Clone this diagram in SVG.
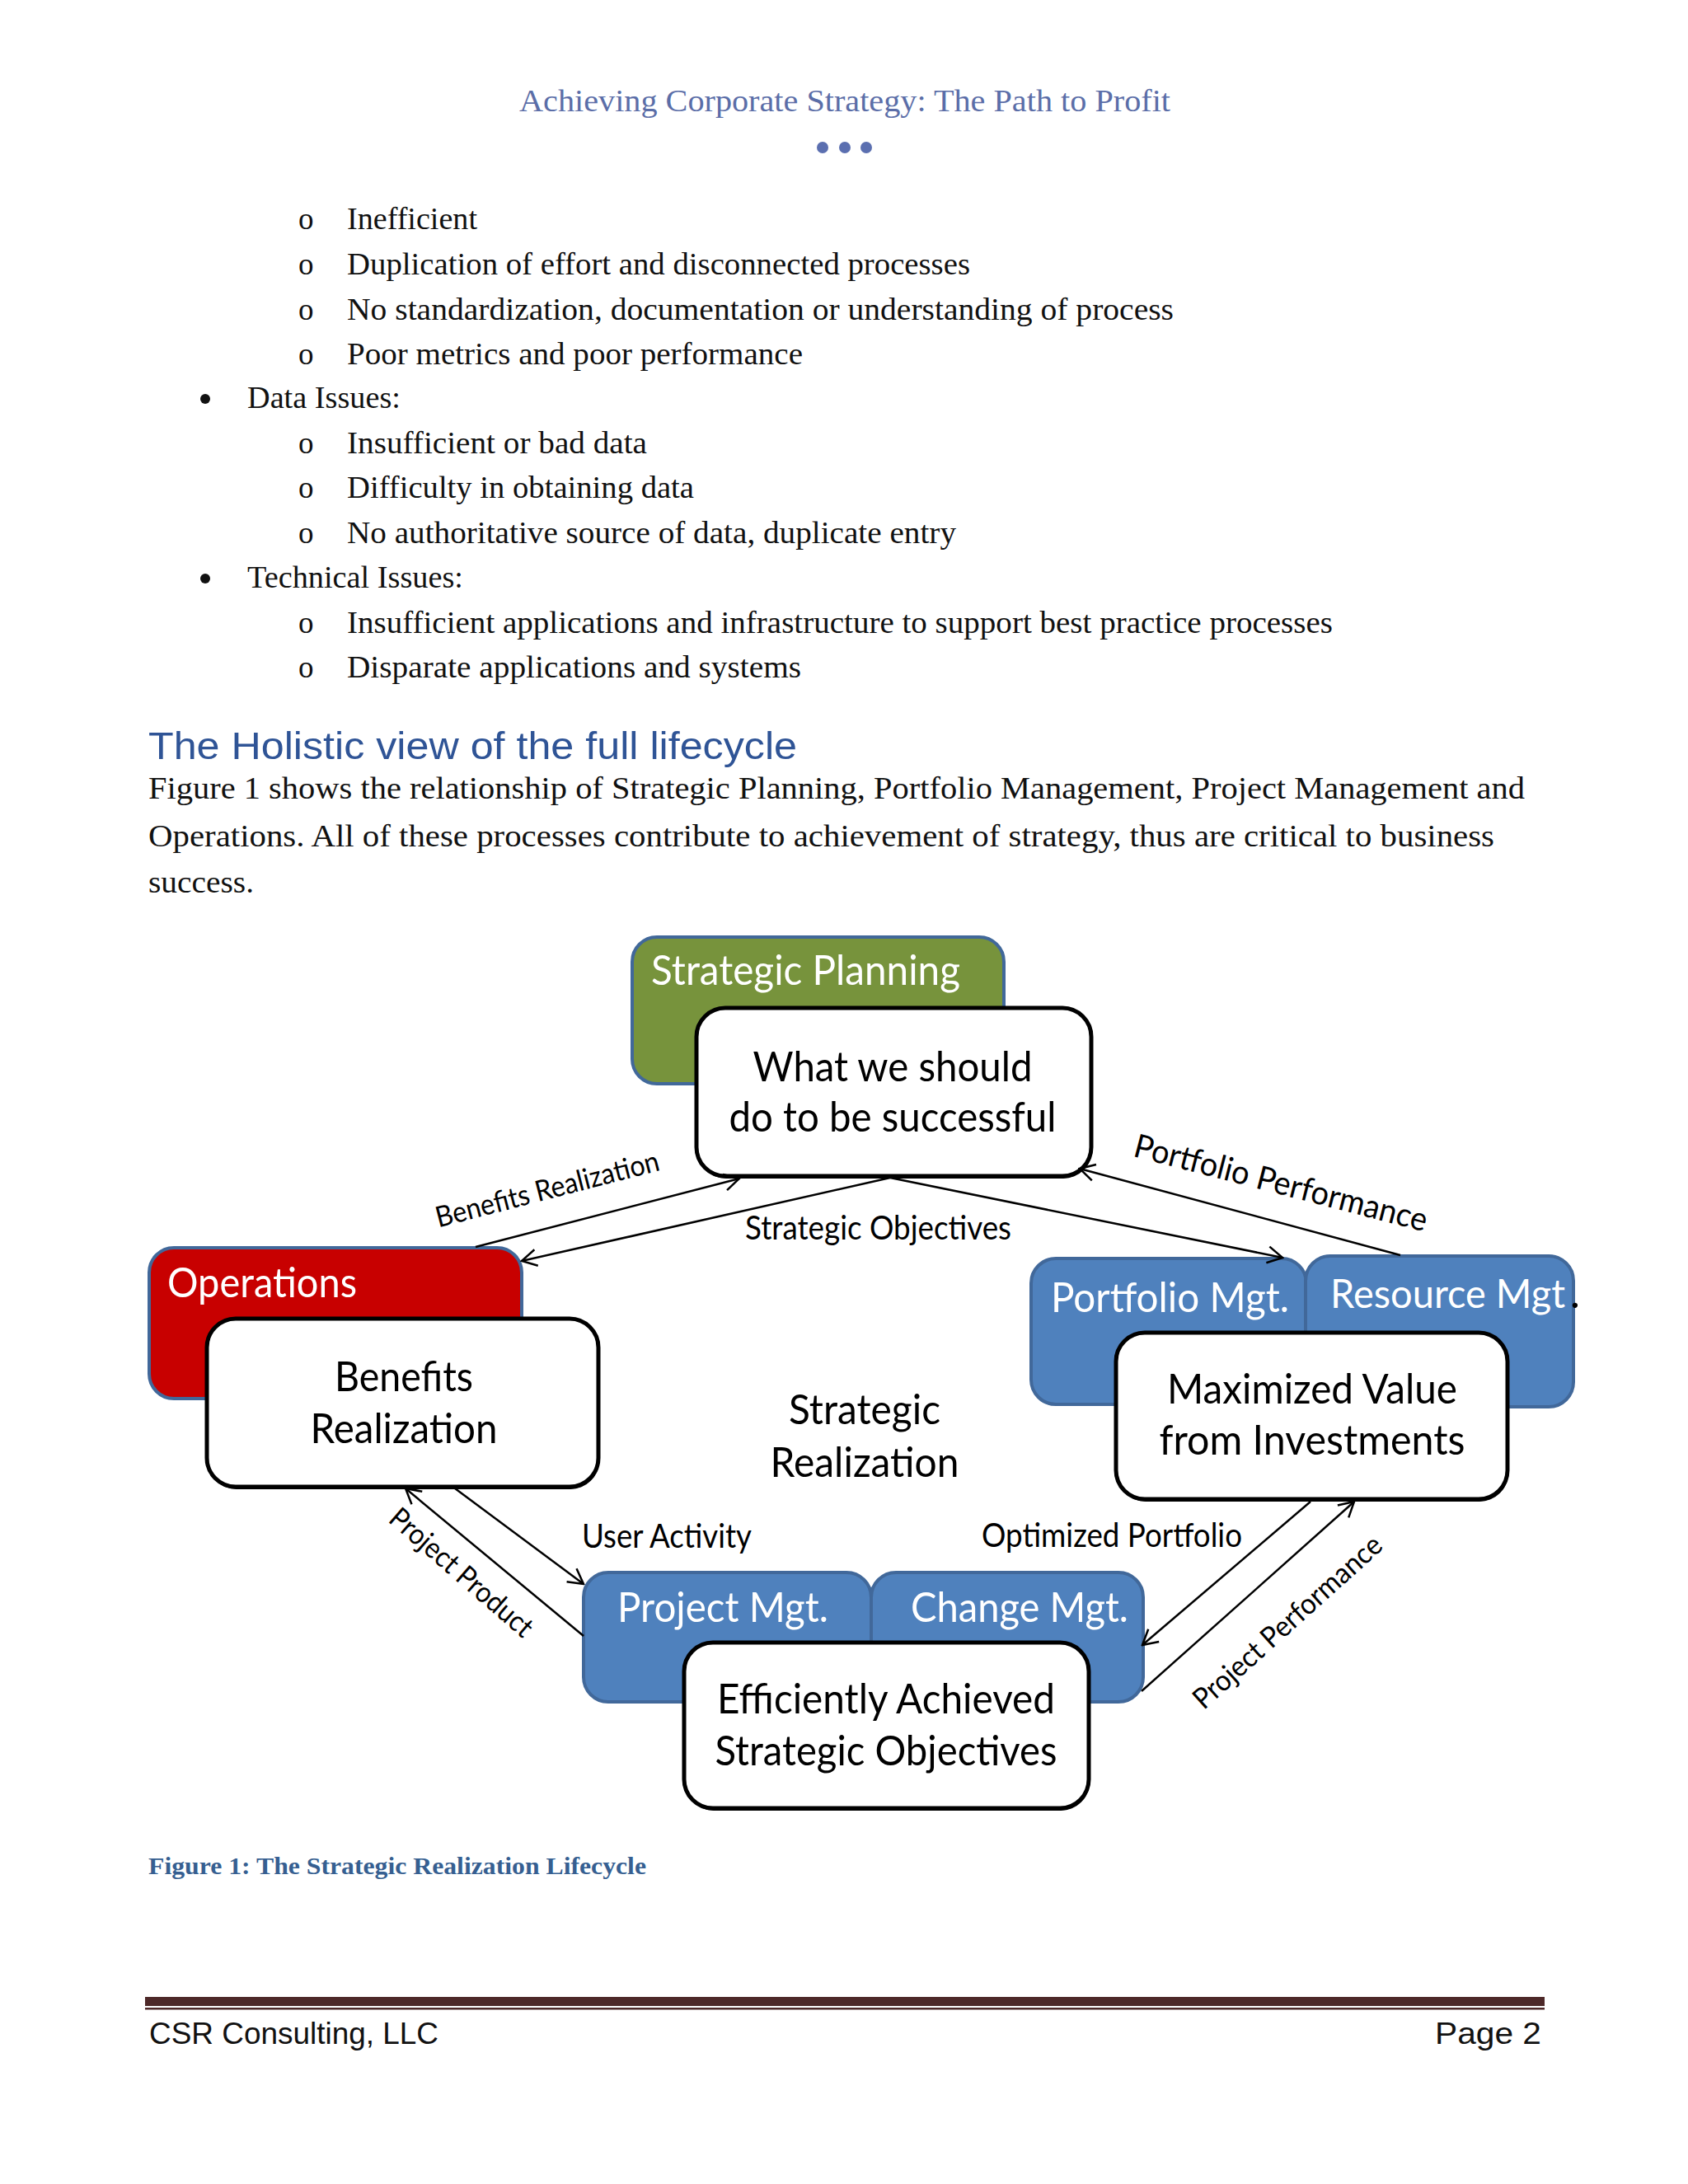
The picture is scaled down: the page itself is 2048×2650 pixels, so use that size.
<svg xmlns="http://www.w3.org/2000/svg" width="2048" height="2650" viewBox="0 0 2048 2650">
<defs>
<style>
.body{font-family:"Liberation Serif","Times New Roman",serif;font-size:37px;fill:#111}
.title{font-family:"Liberation Serif",serif;font-size:37px;fill:#5b6ea8}
.head{font-family:"Liberation Sans",Arial,sans-serif;font-size:46px;fill:#2f5496}
.cap{font-family:"Liberation Serif",serif;font-size:30px;font-weight:bold;fill:#365f91}
.foot{font-family:"Liberation Sans",Arial,sans-serif;font-size:37px;fill:#111}
.hdr{font-family:Lato,"Liberation Sans",sans-serif;font-size:50px;fill:#fff}
.box{font-family:Lato,"Liberation Sans",sans-serif;font-size:50px;fill:#000;text-anchor:middle}
.lbl{font-family:Lato,"Liberation Sans",sans-serif;font-size:40px;fill:#000}
.lbls{font-family:Lato,"Liberation Sans",sans-serif;font-size:35px;fill:#000;text-anchor:middle}
.cbox{stroke:#41689a;stroke-width:4}
.wbox{fill:#fff;stroke:#000;stroke-width:5}
.shadow{fill:#000}
.conn{fill:none;stroke:#000;stroke-width:2.5;marker-end:url(#arr)}
</style>
<marker id="arr" viewBox="-22 -12 24 24" refX="0" refY="0" markerWidth="24" markerHeight="24" orient="auto" markerUnits="userSpaceOnUse">
<path d="M-18,-10 L0,0 L-18,10" fill="none" stroke="#000" stroke-width="2.5"/>
</marker>
</defs>
<rect width="2048" height="2650" fill="#fff"/>

<g id="page-header">
<text class="title" x="630" y="135" textLength="790" lengthAdjust="spacingAndGlyphs">Achieving Corporate Strategy: The Path to Profit</text>
<circle cx="998" cy="179" r="7" fill="#5b6fb0"/>
<circle cx="1025" cy="179" r="7" fill="#5b6fb0"/>
<circle cx="1051" cy="179" r="7" fill="#5b6fb0"/>
</g>

<g id="bullets">
<g class="body">
<text x="362" y="278">o</text>
<text x="421" y="278" textLength="158" lengthAdjust="spacingAndGlyphs">Inefficient</text>
<text x="362" y="333">o</text>
<text x="421" y="333" textLength="756" lengthAdjust="spacingAndGlyphs">Duplication of effort and disconnected processes</text>
<text x="362" y="388">o</text>
<text x="421" y="388" textLength="1003" lengthAdjust="spacingAndGlyphs">No standardization, documentation or understanding of process</text>
<text x="362" y="442">o</text>
<text x="421" y="442" textLength="553" lengthAdjust="spacingAndGlyphs">Poor metrics and poor performance</text>
<text x="300" y="495" textLength="186" lengthAdjust="spacingAndGlyphs">Data Issues:</text>
<text x="362" y="550">o</text>
<text x="421" y="550" textLength="364" lengthAdjust="spacingAndGlyphs">Insufficient or bad data</text>
<text x="362" y="604">o</text>
<text x="421" y="604" textLength="421" lengthAdjust="spacingAndGlyphs">Difficulty in obtaining data</text>
<text x="362" y="659">o</text>
<text x="421" y="659" textLength="739" lengthAdjust="spacingAndGlyphs">No authoritative source of data, duplicate entry</text>
<text x="300" y="713" textLength="262" lengthAdjust="spacingAndGlyphs">Technical Issues:</text>
<text x="362" y="768">o</text>
<text x="421" y="768" textLength="1196" lengthAdjust="spacingAndGlyphs">Insufficient applications and infrastructure to support best practice processes</text>
<text x="362" y="822">o</text>
<text x="421" y="822" textLength="551" lengthAdjust="spacingAndGlyphs">Disparate applications and systems</text>
</g>
<circle cx="249" cy="484" r="6" fill="#111"/>
<circle cx="249" cy="702" r="6" fill="#111"/>
</g>

<g id="section">
<text class="head" x="180" y="921" textLength="787" lengthAdjust="spacingAndGlyphs">The Holistic view of the full lifecycle</text>
<text class="body" x="180" y="969" textLength="1670" lengthAdjust="spacingAndGlyphs">Figure 1 shows the relationship of Strategic Planning, Portfolio Management, Project Management and</text>
<text class="body" x="180" y="1027" textLength="1633" lengthAdjust="spacingAndGlyphs">Operations.  All of these processes contribute to achievement of strategy, thus are critical to business</text>
<text class="body" x="180" y="1083" textLength="128" lengthAdjust="spacingAndGlyphs">success.</text>
</g>

<g id="node-strategic-planning">
<rect class="cbox" x="767" y="1137" width="451" height="178" rx="30" fill="#77933c"/>
<text class="hdr" x="790" y="1195" textLength="375" lengthAdjust="spacingAndGlyphs">Strategic Planning</text>
</g>
<g id="node-operations">
<rect class="cbox" x="181" y="1514" width="452" height="183" rx="30" fill="#c80000"/>
<text class="hdr" x="203" y="1574" textLength="230" lengthAdjust="spacingAndGlyphs">Operations</text>
</g>
<g id="node-portfolio-mgt">
<rect class="cbox" x="1251" y="1527" width="334" height="177" rx="30" fill="#4f81bd"/>
<text class="hdr" x="1275" y="1592" textLength="289" lengthAdjust="spacingAndGlyphs">Portfolio Mgt.</text>
</g>
<g id="node-resource-mgt">
<rect class="cbox" x="1584" y="1524" width="325" height="183" rx="30" fill="#4f81bd"/>
<text class="hdr" x="1614" y="1587" style="font-size:48px" textLength="285" lengthAdjust="spacingAndGlyphs">Resource Mgt</text>
<text class="hdr" x="1905" y="1587" style="fill:#000">.</text>
</g>
<g id="node-project-mgt">
<rect class="cbox" x="708" y="1908" width="349" height="157" rx="30" fill="#4f81bd"/>
<text class="hdr" x="749" y="1968" textLength="256" lengthAdjust="spacingAndGlyphs">Project Mgt.</text>
</g>
<g id="node-change-mgt">
<rect class="cbox" x="1057" y="1908" width="330" height="157" rx="30" fill="#4f81bd"/>
<text class="hdr" x="1105" y="1968" textLength="264" lengthAdjust="spacingAndGlyphs">Change Mgt.</text>
</g>

<g id="node-what">
<rect class="shadow" x="846" y="1226" width="479" height="204" rx="35"/>
<rect class="wbox" x="845" y="1223" width="479" height="204" rx="35"/>
<text class="box" x="1083" y="1312" textLength="339" lengthAdjust="spacingAndGlyphs">What we should</text>
<text class="box" x="1083" y="1373" textLength="397" lengthAdjust="spacingAndGlyphs">do to be successful</text>
</g>
<g id="node-benefits">
<rect class="shadow" x="252" y="1603" width="475" height="204" rx="35"/>
<rect class="wbox" x="251" y="1600" width="475" height="204" rx="35"/>
<text class="box" x="490" y="1688" textLength="168" lengthAdjust="spacingAndGlyphs">Benefits</text>
<text class="box" x="490" y="1751" textLength="227" lengthAdjust="spacingAndGlyphs">Realization</text>
</g>
<g id="node-maximized">
<rect class="shadow" x="1355" y="1620" width="475" height="202" rx="35"/>
<rect class="wbox" x="1354" y="1617" width="475" height="202" rx="35"/>
<text class="box" x="1592" y="1703" textLength="352" lengthAdjust="spacingAndGlyphs">Maximized Value</text>
<text class="box" x="1592" y="1765" textLength="371" lengthAdjust="spacingAndGlyphs">from Investments</text>
</g>
<g id="node-efficiently">
<rect class="shadow" x="831" y="1996" width="491" height="201" rx="35"/>
<rect class="wbox" x="830" y="1993" width="491" height="201" rx="35"/>
<text class="box" x="1075" y="2079" textLength="410" lengthAdjust="spacingAndGlyphs">Efficiently Achieved</text>
<text class="box" x="1075" y="2142" textLength="415" lengthAdjust="spacingAndGlyphs">Strategic Objectives</text>
</g>
<g id="node-center">
<text class="box" x="1049" y="1728" textLength="184" lengthAdjust="spacingAndGlyphs">Strategic</text>
<text class="box" x="1049" y="1792" textLength="229" lengthAdjust="spacingAndGlyphs">Realization</text>
</g>

<g id="connectors">
<path class="conn" d="M577,1513 L897,1430"/>
<path class="conn" d="M1080,1429 L633,1530"/>
<path class="conn" d="M1080,1429 L1556,1526"/>
<path class="conn" d="M1699,1523 L1310,1418"/>
<path class="conn" d="M552,1806 L708,1922"/>
<path class="conn" d="M708,1985 L492,1806"/>
<path class="conn" d="M1590,1822 L1386,1996"/>
<path class="conn" d="M1385,2052 L1643,1822"/>
<text class="lbls" transform="translate(664,1443) rotate(-14.5)" y="12" textLength="279" lengthAdjust="spacingAndGlyphs">Benefits Realization</text>
<text class="lbl" x="904" y="1504" textLength="323" lengthAdjust="spacingAndGlyphs">Strategic Objectives</text>
<text class="lbl" transform="translate(1554,1436) rotate(14.5)" y="13" text-anchor="middle" textLength="366" lengthAdjust="spacingAndGlyphs">Portfolio Performance</text>
<text class="lbl" x="706" y="1878" textLength="206" lengthAdjust="spacingAndGlyphs">User Activity</text>
<text class="lbl" x="1191" y="1877" textLength="316" lengthAdjust="spacingAndGlyphs">Optimized Portfolio</text>
<text class="lbls" transform="translate(560,1908) rotate(41)" y="12" textLength="218" lengthAdjust="spacingAndGlyphs">Project Product</text>
<text class="lbls" transform="translate(1562,1968) rotate(-42)" y="12" textLength="295" lengthAdjust="spacingAndGlyphs">Project Performance</text>
</g>

<g id="caption">
<text class="cap" x="180" y="2274" textLength="604" lengthAdjust="spacingAndGlyphs">Figure 1: The Strategic Realization Lifecycle</text>
</g>

<g id="footer">
<rect x="176" y="2423" width="1698" height="11" fill="#4d2828"/>
<rect x="176" y="2436" width="1698" height="2.5" fill="#4d2828"/>
<text class="foot" x="181" y="2480" textLength="351" lengthAdjust="spacingAndGlyphs">CSR Consulting, LLC</text>
<text class="foot" x="1870" y="2480" text-anchor="end" textLength="129" lengthAdjust="spacingAndGlyphs">Page 2</text>
</g>
</svg>
